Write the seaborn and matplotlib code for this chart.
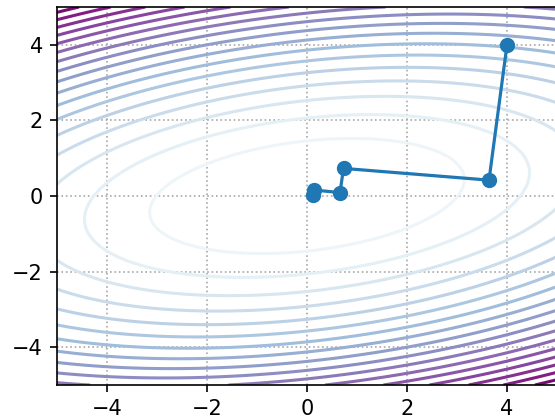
import numpy as np
import pandas as pd
import matplotlib
matplotlib.use("Agg")
import matplotlib.pyplot as plt
import seaborn as sns

# optimisation path
path_x = [4.0, 3.64, 0.73, 0.66, 0.13, 0.12]
path_y = [4.0, 0.42, 0.73, 0.09, 0.16, 0.02]

# quadratic objective f = a*x1^2 + b*x1*x2 + c*x2^2
a, b, c = 0.11, -0.13, 0.47
levels = np.arange(0, 20)

sns.set_style("ticks")
plt.rcParams['font.family'] = ['DejaVu Sans']

fig = plt.figure(figsize=(5.55, 4.2), dpi=100)
ax = fig.add_axes([57/555, 1 - 385/420, 500/555, 378/420])

x1, x2 = np.meshgrid(np.linspace(-5, 5, 400), np.linspace(-5, 5, 400))
f = a * x1**2 + b * x1 * x2 + c * x2**2
ax.contour(x1, x2, f, levels=levels, cmap='BuPu', linewidths=2.2)

df = pd.DataFrame({'x1': path_x, 'x2': path_y})
sns.lineplot(data=df, x='x1', y='x2', sort=False, marker='o', color='#1f77b4',
             linewidth=2.3, markersize=9.5, markeredgewidth=1.5,
             markeredgecolor='#1f77b4', ax=ax)

ax.set_xlim(-5, 5)
ax.set_ylim(-5, 5)
ax.set_xticks([-4, -2, 0, 2, 4])
ax.set_yticks([-4, -2, 0, 2, 4])
ax.set_xlabel('')
ax.set_ylabel('')
ax.grid(True, linestyle=':', color='#a8a8a8', linewidth=1.2)
ax.tick_params(labelsize=15, length=5.25, width=1.2, pad=5, color='black',
               labelcolor='black')
for s in ax.spines.values():
    s.set_linewidth(1.2)
    s.set_color('black')

fig.savefig('out.png', dpi=100)
